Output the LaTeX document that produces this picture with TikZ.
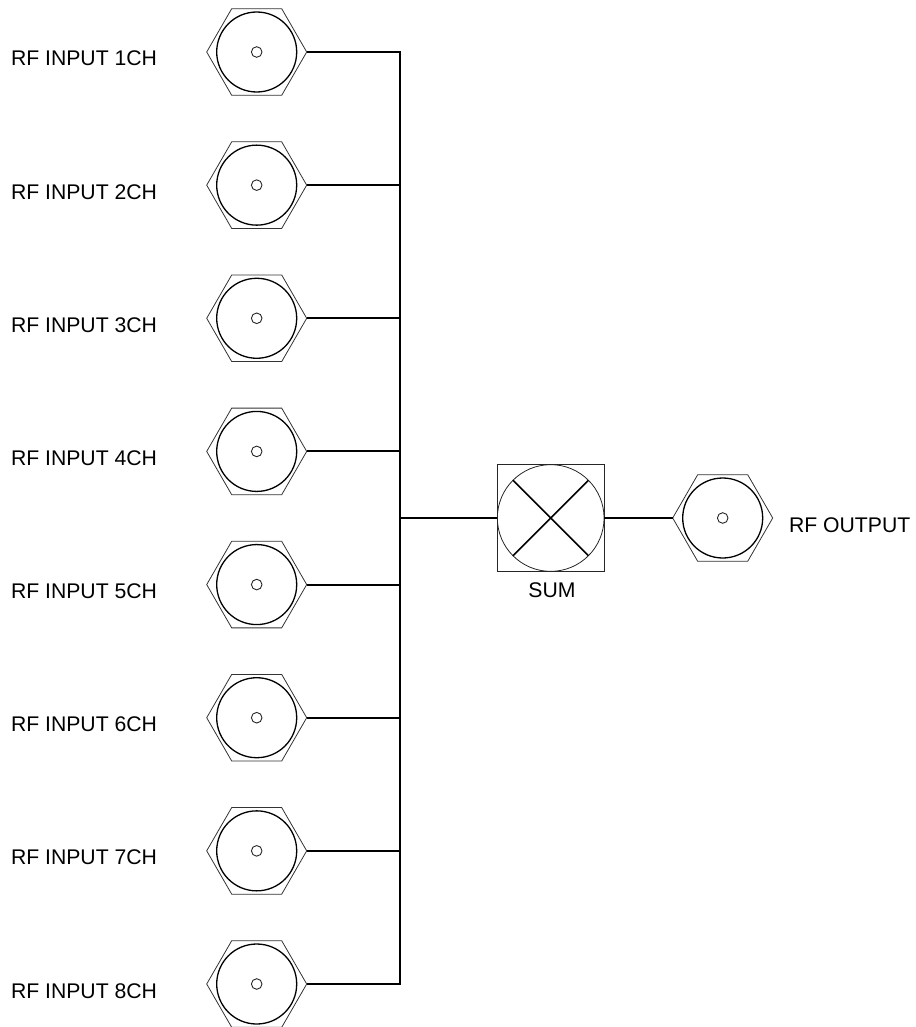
\documentclass[tikz,border=0pt]{standalone}
\usepackage{fontspec}
\setmainfont{Liberation Sans}
\usetikzlibrary{shapes.geometric}
\tikzset{
  hexnut/.style={regular polygon,regular polygon sides=6,minimum size=100pt,inner sep=0pt,outer sep=0pt,draw=black!80,line width=0.8pt},
  bodyring/.style={circle,minimum size=80pt,inner sep=0pt,outer sep=0pt,draw=black,line width=1.3pt},
  pin/.style={circle,minimum size=10.6pt,inner sep=0pt,outer sep=0pt,draw=black!85,line width=0.9pt},
  wire/.style={draw=black,line width=2pt,line cap=butt,line join=miter},
  lbl/.style={font=\fontsize{21.2pt}{24pt}\selectfont,inner sep=0pt,outer sep=0pt,text=black},
  sumbox/.style={rectangle,minimum size=106.7pt,inner sep=0pt,outer sep=0pt,draw=black!85,line width=0.8pt},
  sumring/.style={circle,minimum size=106.7pt,inner sep=0pt,outer sep=0pt,draw=black!85,line width=0.8pt},
  crossline/.style={draw=black,line width=1.7pt}
}
\begin{document}
\begin{tikzpicture}[x=1pt,y=-1pt]
\useasboundingbox (0,0) rectangle (915,1027);
\coordinate (bus) at (400,518);
\foreach \i/\yy in {1/52,2/185.14,3/318.28,4/451.42,5/584.57,6/717.71,7/850.85,8/984}{
  \node[hexnut] (h\i) at (256.7,\yy) {};
  \node[bodyring] (r\i) at (h\i.center) {};
  \node[pin] (p\i) at (h\i.center) {};
  \node[lbl,anchor=base west] (t\i) at (11,\yy+14) {RF INPUT \i{}CH};
}
\draw[wire] (h1.east) -| (bus) |- (h8.east);
\foreach \i in {2,...,7}{
  \draw[wire] (h\i.east) -- (h\i.east -| bus);
}
\node[sumbox] (sb) at (550.7,518) {};
\node[sumring] (sr) at (sb.center) {};
\node[lbl,anchor=base] (st) at (552,597.5) {SUM};
\draw[crossline] (sr.north west) -- (sr.south east);
\draw[crossline] (sr.south west) -- (sr.north east);
\node[hexnut] (ho) at (722.7,518) {};
\node[bodyring] (ro) at (ho.center) {};
\node[pin] (po) at (ho.center) {};
\node[lbl,anchor=base west] (to) at (789,532.5) {RF OUTPUT};
\draw[wire] (bus) -- (sb.west);
\draw[wire] (sb.east) -- (ho.west);
\end{tikzpicture}
\end{document}
